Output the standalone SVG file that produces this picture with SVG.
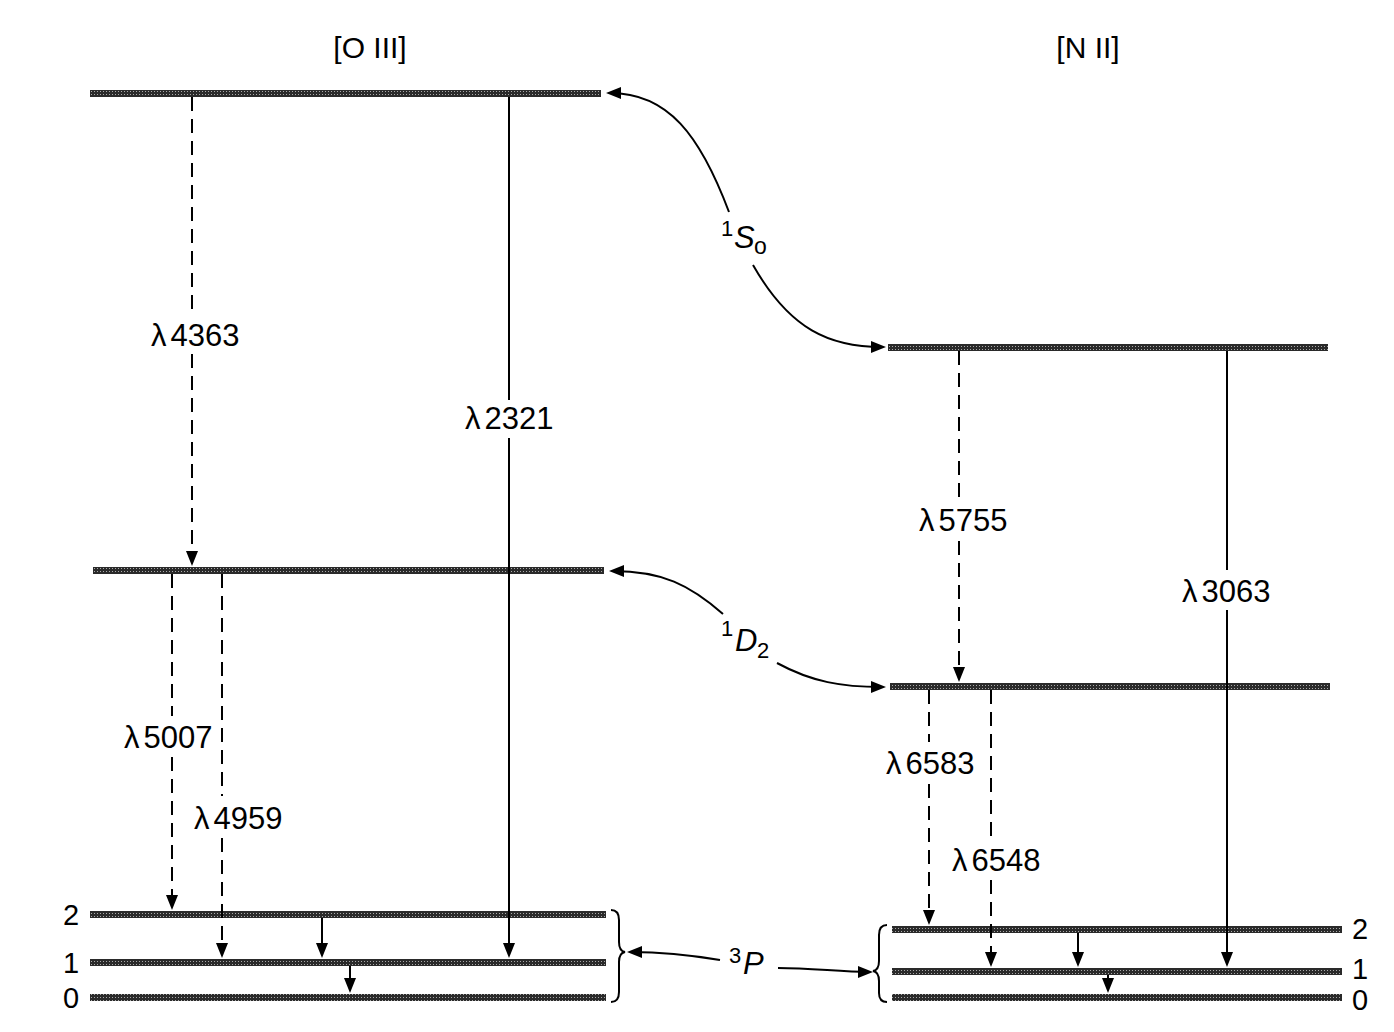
<svg xmlns="http://www.w3.org/2000/svg" width="1394" height="1032" viewBox="0 0 1394 1032">
<defs>
<pattern id="stip" width="3" height="3" patternUnits="userSpaceOnUse">
<rect width="3" height="3" fill="#2a2a2a"/>
<rect x="1" y="1" width="1" height="1" fill="#a8a8a8"/>
</pattern>
<marker id="ah" markerUnits="userSpaceOnUse" markerWidth="16" markerHeight="12" refX="11" refY="6" orient="auto">
<path d="M0,0 L15,6 L0,12 z" fill="#000"/>
</marker>
<style>
.bar{fill:url(#stip);}
.t{font-family:"Liberation Sans",Arial,sans-serif;fill:#000;}
.lbl{font-size:31px;}
.ttl{font-size:30px;}
.num{font-size:29px;}
.ln{stroke:#000;stroke-width:2;fill:none;}
.dash{stroke-dasharray:14 8;}
.it{font-style:italic;}
</style>
</defs>
<rect width="1394" height="1032" fill="#fff"/>

<g id="titles">
<text class="t ttl" x="370" y="58" text-anchor="middle">[O III]</text>
<text class="t ttl" x="1088" y="58" text-anchor="middle">[N II]</text>
</g>

<g id="OIII-1S0"><rect class="bar" x="90" y="90" width="511" height="7"/></g>
<g id="OIII-1D2"><rect class="bar" x="93" y="567" width="511" height="7"/></g>
<g id="OIII-3P2"><rect class="bar" x="90" y="911" width="516" height="7"/><text class="t num" x="71" y="925" text-anchor="middle">2</text></g>
<g id="OIII-3P1"><rect class="bar" x="90" y="959" width="516" height="7"/><text class="t num" x="71" y="973" text-anchor="middle">1</text></g>
<g id="OIII-3P0"><rect class="bar" x="90" y="994" width="516" height="7"/><text class="t num" x="71" y="1008" text-anchor="middle">0</text></g>

<g id="NII-1S0"><rect class="bar" x="888" y="344" width="440" height="7"/></g>
<g id="NII-1D2"><rect class="bar" x="890" y="683" width="440" height="7"/></g>
<g id="NII-3P2"><rect class="bar" x="892" y="926" width="450" height="7"/><text class="t num" x="1360" y="939" text-anchor="middle">2</text></g>
<g id="NII-3P1"><rect class="bar" x="892" y="968" width="450" height="7"/><text class="t num" x="1360" y="979" text-anchor="middle">1</text></g>
<g id="NII-3P0"><rect class="bar" x="892" y="994" width="450" height="7"/><text class="t num" x="1360" y="1010" text-anchor="middle">0</text></g>

<g id="term-1S0">
<text class="t" x="721" y="236" font-size="22">1</text>
<text class="t it" x="734" y="248" font-size="31">S</text>
<text class="t" x="754" y="254" font-size="23">o</text>
</g>
<g id="term-1D2">
<text class="t" x="721" y="636" font-size="22">1</text>
<text class="t it" x="735" y="651" font-size="31">D</text>
<text class="t" x="757" y="658" font-size="22">2</text>
</g>
<g id="term-3P">
<text class="t" x="729" y="963" font-size="22">3</text>
<text class="t it" x="743" y="974" font-size="31">P</text>
</g>

<g id="brackets">
<path class="ln" d="M611,910 Q619,910 619,920 L619,942 Q619,951 625,952 Q619,953 619,962 L619,992 Q619,1002 611,1002"/>
<path class="ln" d="M887,925 Q879,925 879,935 L879,961 Q879,970 873,971 Q879,972 879,981 L879,993 Q879,1002 887,1002"/>
</g>

<g id="connectors">
<path class="ln" d="M729,212 C700,135 668,93 610,93" marker-end="url(#ah)"/>
<path class="ln" d="M753,265 C790,330 830,347 882,347" marker-end="url(#ah)"/>
<path class="ln" d="M723,614 C690,585 662,571 613,571" marker-end="url(#ah)"/>
<path class="ln" d="M777,663 C812,682 842,687 882,687" marker-end="url(#ah)"/>
<path class="ln" d="M720,960 C690,955 665,952 631,952" marker-end="url(#ah)"/>
<path class="ln" d="M778,968 C812,968 840,972 869,972" marker-end="url(#ah)"/>

<line class="ln dash" x1="192" y1="97" x2="192" y2="316"/>
<line class="ln dash" x1="192" y1="354" x2="192" y2="562" marker-end="url(#ah)"/>
<line class="ln" x1="509" y1="97" x2="509" y2="400"/>
<line class="ln" x1="509" y1="438" x2="509" y2="954" marker-end="url(#ah)"/>
<line class="ln dash" x1="172" y1="574" x2="172" y2="716"/>
<line class="ln dash" x1="172" y1="757" x2="172" y2="906" marker-end="url(#ah)"/>
<line class="ln dash" x1="222" y1="574" x2="222" y2="796"/>
<line class="ln dash" x1="222" y1="838" x2="222" y2="954" marker-end="url(#ah)"/>
<line class="ln" x1="322" y1="918" x2="322" y2="954" marker-end="url(#ah)"/>
<line class="ln" x1="350" y1="966" x2="350" y2="989" marker-end="url(#ah)"/>

<line class="ln dash" x1="959" y1="351" x2="959" y2="498"/>
<line class="ln dash" x1="959" y1="541" x2="959" y2="678" marker-end="url(#ah)"/>
<line class="ln" x1="1227" y1="351" x2="1227" y2="570"/>
<line class="ln" x1="1227" y1="610" x2="1227" y2="963" marker-end="url(#ah)"/>
<line class="ln dash" x1="929" y1="690" x2="929" y2="742"/>
<line class="ln dash" x1="929" y1="784" x2="929" y2="921" marker-end="url(#ah)"/>
<line class="ln dash" x1="991" y1="690" x2="991" y2="838"/>
<line class="ln dash" x1="991" y1="880" x2="991" y2="963" marker-end="url(#ah)"/>
<line class="ln" x1="1078" y1="933" x2="1078" y2="963" marker-end="url(#ah)"/>
<line class="ln" x1="1108" y1="975" x2="1108" y2="989" marker-end="url(#ah)"/>
</g>

<g id="labels">
<text class="t lbl" x="151" y="346">λ<tspan dx="4">4363</tspan></text>
<text class="t lbl" x="465" y="429">λ<tspan dx="4">2321</tspan></text>
<text class="t lbl" x="124" y="748">λ<tspan dx="4">5007</tspan></text>
<text class="t lbl" x="194" y="829">λ<tspan dx="4">4959</tspan></text>
<text class="t lbl" x="919" y="531">λ<tspan dx="4">5755</tspan></text>
<text class="t lbl" x="1182" y="602">λ<tspan dx="4">3063</tspan></text>
<text class="t lbl" x="886" y="774">λ<tspan dx="4">6583</tspan></text>
<text class="t lbl" x="952" y="871">λ<tspan dx="4">6548</tspan></text>
</g>
</svg>
